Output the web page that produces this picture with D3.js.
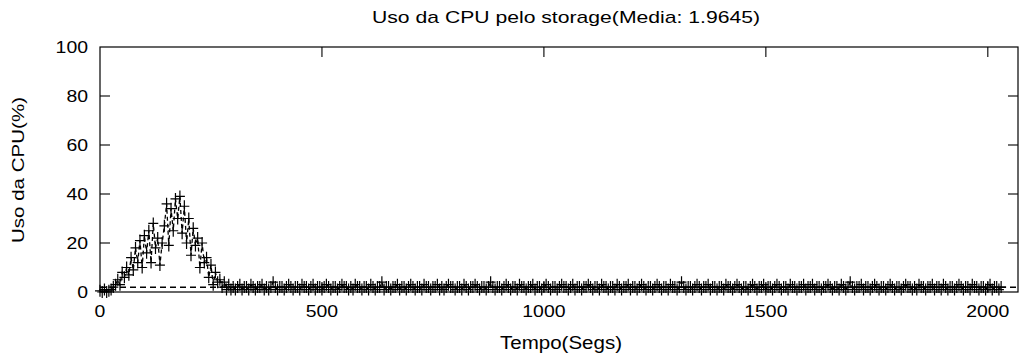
<!DOCTYPE html>
<html>
<head>
<meta charset="utf-8">
<script src="https://cdn.jsdelivr.net/npm/d3@7"></script>
<style>
  body { margin: 0; background: #fff; }
  text { font-family: "Liberation Sans", Arial, sans-serif; fill: #000; }
</style>
</head>
<body>
<div id="container"></div>
<script>
// Chart Dimensions
var svg_width = 1019
var svg_height = 360
var margin = {left: 100, right: 1, top: 47, bottom: 68}

// Data (sample every 5 s)
var sampleStep = 5
var mediaValue = 1.9645
var cpuUso = [
    // subida / pico (0 - 295 s)
    0.5, 0, 1, 0, 0.5, 1, 2, 3, 5, 3, 8, 6, 10, 7, 14, 9, 18, 12, 21, 10,
    23, 16, 25, 12, 28, 18, 22, 11, 20, 27, 36, 19, 34, 25, 38, 30, 39, 24, 35, 20,
    30, 15, 26, 19, 22, 10, 20, 12, 14, 6, 11, 3, 8, 4, 5, 2, 4, 1, 3, 1,
    // resto (300 s em diante)
    2, 1, 2, 3, 1, 2, 2, 1, 3, 2, 1, 2, 2, 3, 1, 2, 1, 2, 4, 2,
    1, 2, 2, 1, 2, 3, 2, 1, 2, 2, 1, 3, 2, 2, 1, 2, 3, 1, 2, 2,
    1, 2, 3, 2, 1, 2, 2, 1, 2, 3, 2, 2, 1, 2, 1, 3, 2, 2, 1, 2,
    2, 1, 3, 2, 1, 2, 2, 4, 1, 2, 2, 1, 2, 2, 3, 1, 2, 2, 1, 2,
    3, 2, 1, 2, 2, 1, 3, 2, 2, 1, 2, 2, 3, 1, 2, 1, 2, 3, 2, 2,
    1, 2, 2, 1, 3, 2, 1, 2, 2, 3, 2, 1, 2, 2, 1, 2, 4, 2, 1, 2,
    2, 1, 2, 3, 2, 1, 2, 2, 1, 3, 2, 2, 1, 2, 2, 3, 1, 2, 2, 1,
    2, 3, 2, 1, 2, 2, 1, 2, 3, 2, 2, 1, 2, 3, 1, 2, 2, 1, 2, 2,
    3, 2, 1, 2, 2, 1, 3, 2, 2, 1, 2, 2, 1, 3, 2, 1, 2, 2, 3, 1,
    2, 2, 1, 2, 3, 2, 1, 2, 2, 1, 2, 3, 2, 1, 2, 2, 1, 3, 2, 2,
    1, 2, 4, 2, 1, 2, 2, 1, 2, 3, 2, 1, 2, 2, 3, 1, 2, 2, 1, 2,
    2, 1, 3, 2, 2, 1, 2, 3, 2, 1, 2, 2, 1, 2, 3, 2, 1, 2, 2, 3,
    1, 2, 2, 1, 2, 3, 2, 1, 2, 2, 1, 3, 2, 2, 1, 2, 2, 3, 1, 2,
    2, 3, 1, 2, 2, 1, 2, 2, 3, 2, 1, 2, 2, 1, 3, 2, 1, 2, 4, 2,
    1, 2, 2, 3, 1, 2, 2, 1, 2, 3, 2, 1, 2, 2, 1, 2, 3, 2, 1, 2,
    2, 1, 2, 3, 2, 2, 1, 2, 1, 3, 2, 2, 1, 2, 2, 3, 1, 2, 2, 1,
    3, 2, 1, 2, 2, 1, 2, 3, 2, 1, 2, 2, 1, 3, 2, 2, 1, 2, 2, 1,
    2, 3, 1, 2, 2, 1, 2
]
var xTicks = [0, 500, 1000, 1500, 2000]
var yTicks = [0, 20, 40, 60, 80, 100]

var titleText = "Uso da CPU pelo storage(Media: " + mediaValue + ")"
var xLabel = "Tempo(Segs)"
var yLabel = "Uso da CPU(%)"

var svg = d3.select("#container")
    .append("svg")
    .attr("width", svg_width)
    .attr("height", svg_height)

var x = d3.scaleLinear()
    .domain([0, 2068])
    .range([margin.left, svg_width - margin.right])
var y = d3.scaleLinear()
    .domain([0, 100])
    .range([svg_height - margin.bottom, margin.top])

var x0 = x.range()[0], x1 = x.range()[1]
var y0 = y.range()[0], y1 = y.range()[1]

// Border
svg.append("rect")
    .attr("x", x0).attr("y", y1)
    .attr("width", x1 - x0).attr("height", y0 - y1)
    .attr("fill", "none").attr("stroke", "#000").attr("stroke-width", 1.2)

// Ticks (gnuplot style: inward on all four sides)
var tickLen = 10
var g = svg.append("g").attr("stroke", "#000").attr("stroke-width", 1.1)
yTicks.forEach(function(v){
    if (v == 0 || v == 100) return
    g.append("line").attr("x1", x0).attr("x2", x0 + tickLen).attr("y1", y(v)).attr("y2", y(v))
    g.append("line").attr("x1", x1).attr("x2", x1 - tickLen).attr("y1", y(v)).attr("y2", y(v))
})
xTicks.forEach(function(v){
    if (v == 0) return
    g.append("line").attr("x1", x(v)).attr("x2", x(v)).attr("y1", y0).attr("y2", y0 - tickLen)
    g.append("line").attr("x1", x(v)).attr("x2", x(v)).attr("y1", y1).attr("y2", y1 + tickLen)
})

// Tick labels
var digitW = 10.8
svg.append("g").selectAll("text")
    .data(yTicks).enter().append("text")
    .attr("x", 88).attr("y", d => y(d) + 6)
    .attr("text-anchor", "end")
    .attr("font-size", 17)
    .attr("textLength", d => String(d).length * digitW)
    .attr("lengthAdjust", "spacingAndGlyphs")
    .text(d => d)
svg.append("g").selectAll("text")
    .data(xTicks).enter().append("text")
    .attr("x", d => x(d)).attr("y", 317)
    .attr("text-anchor", "middle")
    .attr("font-size", 17)
    .attr("textLength", d => String(d).length * digitW)
    .attr("lengthAdjust", "spacingAndGlyphs")
    .text(d => d)

// Titles
svg.append("text")
    .attr("x", 566).attr("y", 23)
    .attr("text-anchor", "middle").attr("font-size", 17)
    .attr("textLength", 388).attr("lengthAdjust", "spacingAndGlyphs")
    .text(titleText)
svg.append("text")
    .attr("x", 561).attr("y", 349)
    .attr("text-anchor", "middle").attr("font-size", 18)
    .attr("textLength", 122).attr("lengthAdjust", "spacingAndGlyphs")
    .text(xLabel)
svg.append("text")
    .attr("transform", "translate(24,170) rotate(-90)")
    .attr("text-anchor", "middle").attr("font-size", 17)
    .attr("textLength", 146).attr("lengthAdjust", "spacingAndGlyphs")
    .text(yLabel)

// Data: dashed line + crosses
var points = cpuUso.map((v, i) => [i * sampleStep, v])
var line = d3.line().x(d => x(d[0])).y(d => y(d[1]))
svg.append("path")
    .datum(points)
    .attr("d", line)
    .attr("fill", "none").attr("stroke", "#000")
    .attr("stroke-width", 1.3).attr("stroke-dasharray", "4,3")

var cross = svg.append("g").attr("stroke", "#000").attr("stroke-width", 1.2)
cross.selectAll("path")
    .data(points).enter().append("path")
    .attr("d", d => {
        var px = x(d[0]), py = y(d[1])
        return "M" + (px - 5) + "," + py + "H" + (px + 5) + "M" + px + "," + (py - 6) + "V" + (py + 6)
    })

// Mean line
svg.append("line")
    .attr("x1", x0).attr("x2", x1)
    .attr("y1", y(mediaValue)).attr("y2", y(mediaValue))
    .attr("stroke", "#000").attr("stroke-width", 1.6)
    .attr("stroke-dasharray", "6,4")
</script>
</body>
</html>
